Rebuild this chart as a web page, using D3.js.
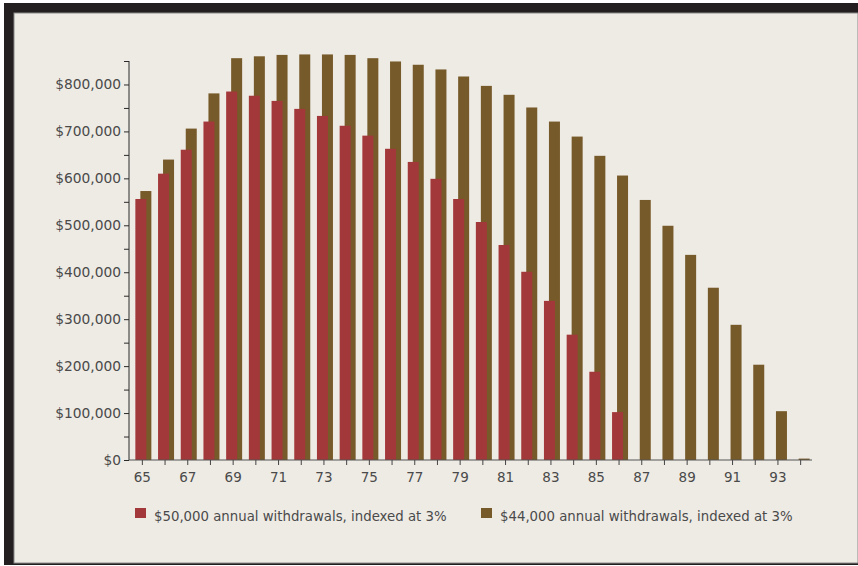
<!DOCTYPE html>
<html lang="en">

<head>
  <meta charset="UTF-8" />
  <title>Portfolio balance by age</title>
  <script src="https://d3js.org/d3.v7.min.js"></script>
  <style>
    body {
      margin: 0;
      background: #fff;
    }

    svg {
      display: block;
      font-family: "DejaVu Sans", sans-serif;
    }

    .axis text,
    .legend text {
      fill: #4a4a4a;
      font-family: "DejaVu Sans", sans-serif;
    }

    .y.axis text {
      font-size: 13.8px;
    }

    .x.axis text {
      font-size: 13.5px;
    }

    .legend text {
      font-size: 13.3px;
    }
  </style>
</head>

<body>
  <svg id="chart" width="858" height="566"></svg>

  <script>
    // ages on the x axis
    const ages = d3.range(65, 95);

    // balance in dollars, $50,000 withdrawals indexed at 3%
    const balance50k = [
      556000, 610000, 661000, 721000, 785000, 776000, 765000, 748000, 733000, 712000,
      691000, 663000, 635000, 599000, 556000, 507000, 458000, 401000, 339000, 267000,
      188000, 102000, 0, 0, 0, 0, 0, 0, 0, 0
    ];

    // balance in dollars, $44,000 withdrawals indexed at 3%
    const balance44k = [
      573000, 640000, 706000, 781000, 856000, 860000, 863000, 864000, 864000, 863000,
      856000, 849000, 842000, 832000, 817000, 797000, 778000, 751000, 721000, 689000,
      648000, 606000, 554000, 499000, 437000, 367000, 288000, 203000, 104000, 3000
    ];

    const seriesLabels = [
      "$50,000 annual withdrawals, indexed at 3%",
      "$44,000 annual withdrawals, indexed at 3%"
    ];

    const yTicks = d3.range(0, 850001, 50000);

    const colors = { red: "#a3383a", brown: "#775a29" };

    const svg = d3.select("#chart");

    // dark frame with a light panel
    svg.append("rect")
      .attr("x", 4).attr("y", 3)
      .attr("width", 854).attr("height", 562)
      .attr("fill", "#231f20");
    svg.append("rect")
      .attr("x", 14).attr("y", 13)
      .attr("width", 844).attr("height", 550)
      .attr("fill", "#eeebe5")
      .attr("stroke", "#8a8a8a")
      .attr("stroke-width", 1);

    const x = d3.scaleBand()
      .domain(ages)
      .range([131, 812])
      .padding(0);

    const y = d3.scaleLinear()
      .domain([0, 850000])
      .range([460, 61]);

    const center = d => x(d) + x.bandwidth() / 2;

    // brown bars sit behind the red ones, shifted right
    svg.append("g")
      .selectAll("rect")
      .data(ages.map((a, i) => ({ age: a, v: balance44k[i] })))
      .join("rect")
      .attr("x", d => center(d.age) - 2)
      .attr("width", 11)
      .attr("y", d => y(d.v))
      .attr("height", d => y(0) - y(d.v))
      .attr("fill", colors.brown);

    svg.append("g")
      .selectAll("rect")
      .data(ages.map((a, i) => ({ age: a, v: balance50k[i] })).filter(d => d.v > 0))
      .join("rect")
      .attr("x", d => center(d.age) - 7)
      .attr("width", 11)
      .attr("y", d => y(d.v))
      .attr("height", d => y(0) - y(d.v))
      .attr("fill", colors.red);

    // y axis
    const yAxis = svg.append("g")
      .attr("class", "y axis")
      .attr("transform", "translate(129,0)")
      .call(d3.axisLeft(y)
        .tickValues(yTicks)
        .tickSize(5)
        .tickPadding(3)
        .tickFormat(d => d % 100000 === 0 ? "$" + d3.format(",")(d) : ""));
    yAxis.attr("font-family", null).attr("font-size", null);
    yAxis.select(".domain").attr("stroke", "#2a2a2a").attr("d", "M0,61V460");
    yAxis.selectAll(".tick line").attr("stroke", "#2a2a2a");

    // x axis
    const xAxis = svg.append("g")
      .attr("class", "x axis")
      .attr("transform", "translate(0,460)")
      .call(d3.axisBottom(x)
        .tickSize(5)
        .tickPadding(7)
        .tickFormat(d => d % 2 === 1 ? d : ""));
    xAxis.attr("font-family", null).attr("font-size", null);
    xAxis.select(".domain").attr("stroke", "#555").attr("d", "M129,0H812");
    xAxis.selectAll(".tick line").attr("stroke", "#444");

    // legend
    const legend = svg.append("g").attr("class", "legend");
    const legendItems = [
      { label: seriesLabels[0], color: colors.red, x: 135 },
      { label: seriesLabels[1], color: colors.brown, x: 481 }
    ];
    legendItems.forEach(item => {
      legend.append("rect")
        .attr("x", item.x).attr("y", 508)
        .attr("width", 11).attr("height", 10)
        .attr("fill", item.color);
      legend.append("text")
        .attr("x", item.x + 19).attr("y", 521)
        .text(item.label);
    });
  </script>
</body>

</html>
